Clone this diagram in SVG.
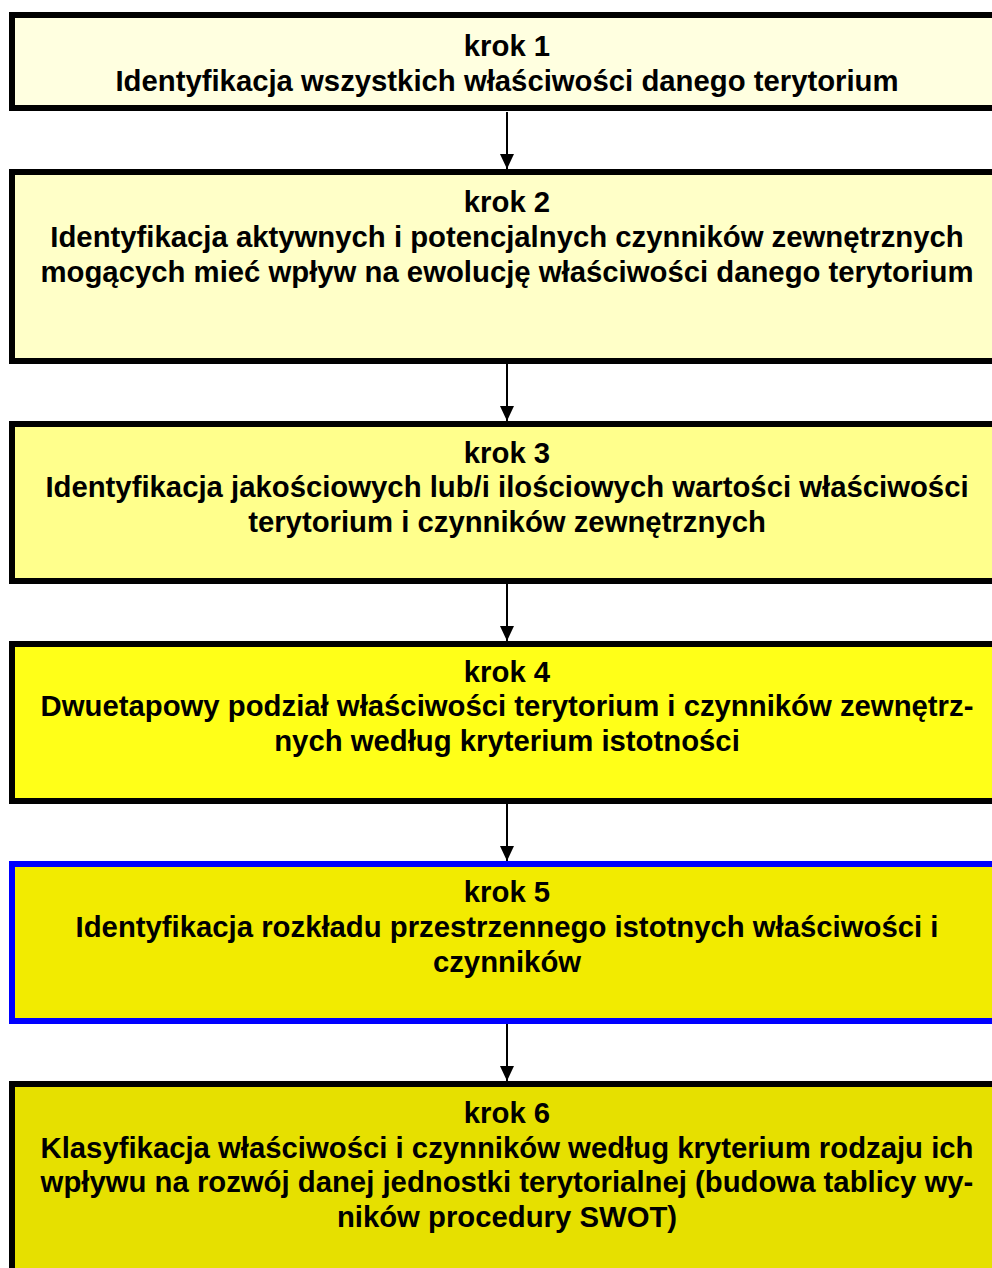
<svg xmlns="http://www.w3.org/2000/svg" width="992" height="1268" viewBox="0 0 992 1268">
<style>
.box{stroke:#000;stroke-width:6}
.t{font-family:"Liberation Sans",Arial,sans-serif;font-weight:bold;font-size:29.3px;fill:#000;text-anchor:middle}
.c{stroke:#000;stroke-width:2;fill:none}
</style>
<defs>
<marker id="ah" markerUnits="userSpaceOnUse" markerWidth="16" markerHeight="14" refX="15" refY="7" orient="auto">
<path d="M0,0 L15,7 L0,14 Z" fill="#000"/>
</marker>
</defs>
<rect width="992" height="1268" fill="#fff"/>
<g id="connectors">
<line class="c" x1="507" y1="112" x2="507" y2="169" marker-end="url(#ah)"/>
<line class="c" x1="507" y1="364" x2="507" y2="421" marker-end="url(#ah)"/>
<line class="c" x1="507" y1="584" x2="507" y2="641" marker-end="url(#ah)"/>
<line class="c" x1="507" y1="804" x2="507" y2="861" marker-end="url(#ah)"/>
<line class="c" x1="507" y1="1024" x2="507" y2="1081" marker-end="url(#ah)"/>
</g>
<g id="step1">
<rect class="box" x="12" y="15" width="990" height="93" fill="#FFFFE0"/>
<text class="t" x="507" y="56">krok 1</text>
<text class="t" x="507" y="91">Identyfikacja wszystkich właściwości danego terytorium</text>
</g>
<g id="step2">
<rect class="box" x="12" y="172" width="990" height="189" fill="#FFFFC8"/>
<text class="t" x="507" y="212">krok 2</text>
<text class="t" x="507" y="247">Identyfikacja aktywnych i potencjalnych czynników zewnętrznych</text>
<text class="t" x="507" y="282">mogących mieć wpływ na ewolucję właściwości danego terytorium</text>
</g>
<g id="step3">
<rect class="box" x="12" y="424" width="990" height="157" fill="#FFFF8C"/>
<text class="t" x="507" y="463">krok 3</text>
<text class="t" x="507" y="497">Identyfikacja jakościowych lub/i ilościowych wartości właściwości</text>
<text class="t" x="507" y="532">terytorium i czynników zewnętrznych</text>
</g>
<g id="step4">
<rect class="box" x="12" y="644" width="990" height="157" fill="#FFFF18"/>
<text class="t" x="507" y="682">krok 4</text>
<text class="t" x="507" y="716">Dwuetapowy podział właściwości terytorium i czynników zewnętrz-</text>
<text class="t" x="507" y="751">nych według kryterium istotności</text>
</g>
<g id="step5">
<rect class="box" x="12" y="864" width="990" height="157" fill="#F2EB00" style="stroke:#0000FF"/>
<text class="t" x="507" y="902">krok 5</text>
<text class="t" x="507" y="937">Identyfikacja rozkładu przestrzennego istotnych właściwości i</text>
<text class="t" x="507" y="972">czynników</text>
</g>
<g id="step6">
<rect class="box" x="12" y="1084" width="990" height="220" fill="#E6E000"/>
<text class="t" x="507" y="1123">krok 6</text>
<text class="t" x="507" y="1158">Klasyfikacja właściwości i czynników według kryterium rodzaju ich</text>
<text class="t" x="507" y="1192">wpływu na rozwój danej jednostki terytorialnej (budowa tablicy wy-</text>
<text class="t" x="507" y="1227">ników procedury SWOT)</text>
</g>
</svg>
